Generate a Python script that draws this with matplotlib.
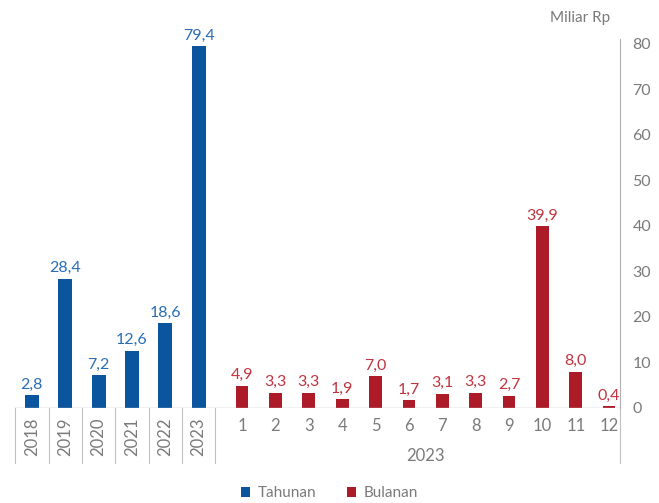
import numpy as np
import matplotlib.pyplot as plt

plt.rcParams['font.family'] = ['Lato', 'DejaVu Sans']

years = ['2018', '2019', '2020', '2021', '2022', '2023']
tahunan = [2.8, 28.4, 7.2, 12.6, 18.6, 79.4]
months = ['1', '2', '3', '4', '5', '6', '7', '8', '9', '10', '11', '12']
bulanan = [4.9, 3.3, 3.3, 1.9, 7.0, 1.7, 3.1, 3.3, 2.7, 39.9, 8.0, 0.4]

blue = '#0a559e'
red = '#ad1a28'
blue_txt = '#2a6db5'
red_txt = '#c0343f'
grey = '#7a7a7a'

x_year = np.arange(len(years))
x_month = np.arange(len(months)) + len(years) + 0.3

fig = plt.figure(figsize=(6.59, 5.03), dpi=100)
ax = fig.add_axes([0.023, 0.189, 0.918, 0.724])

ax.bar(x_year, tahunan, width=0.42, color=blue, label='Tahunan')
ax.bar(x_month, bulanan, width=0.38, color=red, label='Bulanan')

for x, v in zip(x_year, tahunan):
    ax.text(x, v + 0.8, f'{v:.1f}'.replace('.', ','), ha='center', va='bottom',
            color=blue_txt, fontsize=11.5)
for x, v in zip(x_month, bulanan):
    ax.text(x, v + 0.8, f'{v:.1f}'.replace('.', ','), ha='center', va='bottom',
            color=red_txt, fontsize=11.5)

ax.set_xlim(-0.5, x_month[-1] + 0.33)
ax.set_ylim(0, 80)
ax.yaxis.tick_right()
ax.set_yticks(np.arange(0, 81, 10))
ax.tick_params(axis='y', length=0, pad=9, labelsize=11.5, labelcolor=grey)
ax.set_xticks([])
for s in ['top', 'left', 'bottom']:
    ax.spines[s].set_visible(False)
ax.spines['right'].set_color('#b0b0b0')
ax.spines['right'].set_bounds(0, 81)
ax.axhline(0, color='#bbbbbb', lw=1)

# category labels below the axis
for x, lab in zip(x_year, years):
    ax.text(x, -2.0, lab, rotation=90, ha='center', va='top', color=grey,
            fontsize=12, clip_on=False)
for x, lab in zip(x_month, months):
    ax.text(x, -2.3, lab, ha='center', va='top', color=grey, fontsize=12,
            clip_on=False)
ax.text(x_month.mean(), -8.8, '2023', ha='center', va='top', color=grey,
        fontsize=12, clip_on=False)

# separator lines between year labels
for b in np.arange(-0.5, len(years), 1.0):
    ax.plot([b, b], [0, -12], color='#c0c0c0', lw=0.8, clip_on=False)
ax.plot([x_month[-1] + 0.33] * 2, [0, -12], color='#c0c0c0', lw=0.8, clip_on=False)

ax.text(0.926, 0.964, 'Miliar Rp', transform=fig.transFigure, ha='right', va='center',
        color=grey, fontsize=11)

fig.legend(loc='lower center', bbox_to_anchor=(0.5, -0.022), ncol=2, frameon=False,
           fontsize=11, handlelength=0.6, handleheight=0.6, columnspacing=2.0,
           handletextpad=0.5, labelcolor=grey)

fig.savefig('out.png', dpi=100)
